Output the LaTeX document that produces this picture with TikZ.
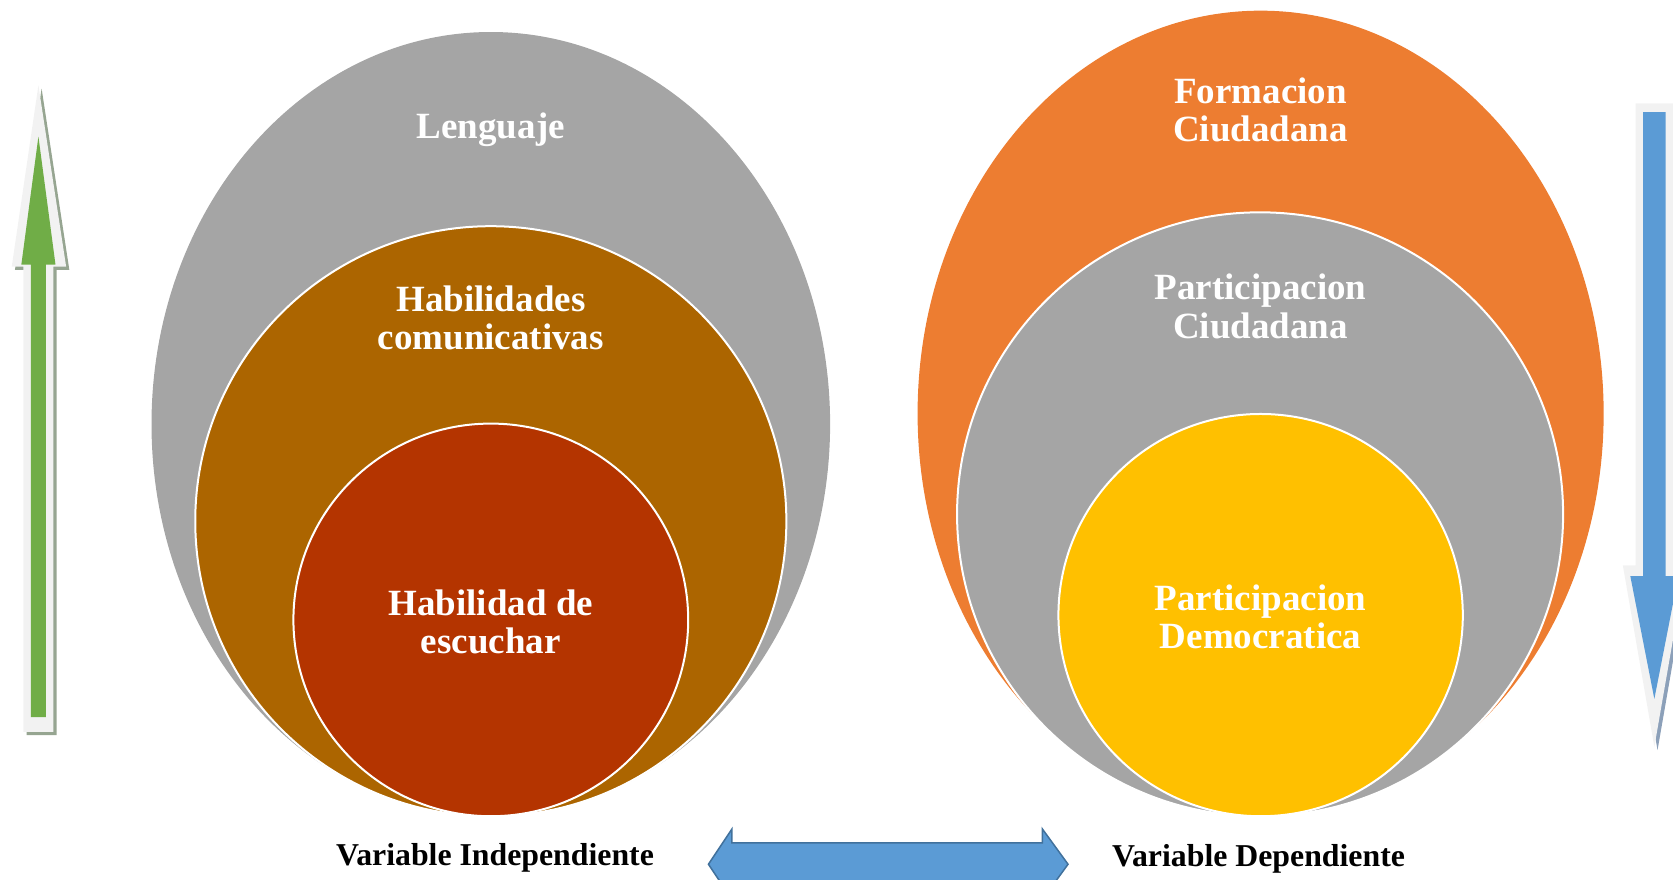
\documentclass[tikz,border=0pt]{standalone}
\usepackage{fontspec}
\setmainfont{Liberation Serif}
\definecolor{cgray}{HTML}{A5A5A5}
\definecolor{cbrown}{RGB}{172,101,0}
\definecolor{cred}{RGB}{180,52,0}
\definecolor{corange}{HTML}{ED7D31}
\definecolor{cyellow}{HTML}{FFC000}
\definecolor{cblue}{HTML}{5B9BD5}
\definecolor{cblueline}{HTML}{41719C}
\definecolor{cgreen}{HTML}{70AD47}
\definecolor{cborder}{HTML}{F2F2F2}
\definecolor{cgshadow}{RGB}{150,165,145}
\definecolor{cbshadow}{RGB}{140,160,185}
\begin{document}
\begin{tikzpicture}[x=1.067pt,y=-1.067pt,
  inner/.style={draw=white,line width=2pt},
  lbl/.style={text=white,align=center,font=\bfseries\fontsize{37}{38.5}\selectfont},
  varlbl/.style={text=black,font=\bfseries\fontsize{31.8}{34}\selectfont}]
\useasboundingbox (0,0) rectangle (1568,824);
\begin{scope}
\clip (0,0) rectangle (1568,824);
% left set
\fill[cgray] (460,397.5) ellipse [x radius=318, y radius=367.5];
\filldraw[fill=cbrown,inner] (460,488.5) ellipse [x radius=277, y radius=276.5];
\filldraw[fill=cred,inner] (460,581) ellipse [x radius=185, y radius=184];
% right set
\fill[corange] (1181.5,387.5) ellipse [x radius=321.5, y radius=377.5];
\filldraw[fill=cgray,inner] (1181,482) ellipse [x radius=284, y radius=283];
\filldraw[fill=cyellow,inner] (1181.5,576.5) ellipse [x radius=189.5, y radius=188.5];
% green up arrow
\fill[cgshadow] (25,689) -- (25,253) -- (14,253) -- (39,83) -- (65,253) -- (53,253) -- (53,689) -- cycle;
\fill[cborder] (22,686) -- (22,250) -- (11,250) -- (36,80) -- (62,250) -- (50,250) -- (50,686) -- cycle;
\fill[cgreen] (29,672) -- (29,248) -- (20,248) -- (36,128) -- (52,248) -- (43,248) -- (43,672) -- cycle;
% blue down arrow
\fill[cbshadow] (1536,100) -- (1571,100) -- (1571,533) -- (1583,533) -- (1553.5,703) -- (1524,533) -- (1536,533) -- cycle;
\fill[cborder] (1533,97) -- (1568,97) -- (1568,530) -- (1580,530) -- (1550.5,700) -- (1521,530) -- (1533,530) -- cycle;
\fill[cblue] (1540,105) -- (1561,105) -- (1561,540) -- (1573,540) -- (1550.5,655) -- (1528,540) -- (1540,540) -- cycle;
% double arrow
\filldraw[fill=cblue,draw=cblueline,line width=1.5pt,line join=miter]
  (664,810) -- (686,777) -- (686,790) -- (977,790) -- (977,777) -- (1001,810)
  -- (977,843) -- (977,830) -- (686,830) -- (686,843) -- cycle;
\end{scope}
% labels
\node[lbl] (lenguaje) at (460,122) {Lenguaje};
\node[lbl] (habcom) at (460,298) {Habilidades\\comunicativas};
\node[lbl] (habesc) at (460,583) {Habilidad de\\escuchar};
\node[lbl] (formacion) at (1181.5,103) {Formacion\\Ciudadana};
\node[lbl] (partciu) at (1181.5,287) {Participacion\\Ciudadana};
\node[lbl] (partdem) at (1181.5,578) {Participacion\\Democratica};
\node[varlbl] (vind) at (464,804) {Variable Independiente};
\node[varlbl] (vdep) at (1179.5,805) {Variable Dependiente};
\end{tikzpicture}
\end{document}
